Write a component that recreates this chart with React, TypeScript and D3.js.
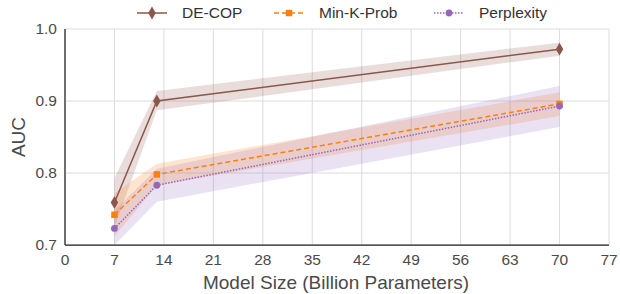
import * as d3 from 'd3';
import React from 'react';

// model sizes (billions) and AUC per method
const sizes = [7, 13, 70];
const decopMean = [0.759, 0.9, 0.972];
const decopLow = [0.725, 0.887, 0.963];
const decopHigh = [0.793, 0.914, 0.981];
const minkMean = [0.742, 0.798, 0.896];
const minkLow = [0.712, 0.783, 0.879];
const minkHigh = [0.772, 0.813, 0.912];
const pplMean = [0.723, 0.783, 0.893];
const pplLow = [0.7, 0.76, 0.864];
const pplHigh = [0.748, 0.806, 0.921];

const xTicks = [0, 7, 14, 21, 28, 35, 42, 49, 56, 63, 70, 77];
const yTicks = [0.7, 0.8, 0.9, 1.0];

const series = [
  { name: 'DE-COP', color: '#8c564b', mean: decopMean, low: decopLow, high: decopHigh, dash: '', marker: 'diamond' },
  { name: 'Min-K-Prob', color: '#ff7f0e', mean: minkMean, low: minkLow, high: minkHigh, dash: '5,3', marker: 'square' },
  { name: 'Perplexity', color: '#9467bd', mean: pplMean, low: pplLow, high: pplHigh, dash: '1.5,1.5', marker: 'circle' },
];

const legendX = [137, 274, 434];

export default function App() {
  const width = 620;
  const height = 294;
  const left = 65, right = 609, top = 29, bottom = 245;
  const font = '"Liberation Sans", Arial, sans-serif';

  const x = d3.scaleLinear().domain([0, 77]).range([left, right]);
  const y = d3.scaleLinear().domain([0.7, 1.0]).range([bottom, top]);

  const line = d3.line<number>().x((d, i) => x(sizes[i])).y(d => y(d));

  const markerPath = (type: string, size: number) => {
    const sym = type === 'diamond' ? d3.symbolDiamond : type === 'square' ? d3.symbolSquare : d3.symbolCircle;
    return d3.symbol().type(sym).size(size)() as string;
  };
  const markerSize = (type: string) => (type === 'diamond' ? 48 : type === 'square' ? 42 : 36);

  return (
    <svg width={width} height={height} style={{ position: 'absolute', left: 0, top: 0 }} fontFamily={font}>
      <defs>
        <clipPath id="plotclip">
          <rect x={left} y={top - 5} width={right - left} height={bottom - top + 5} />
        </clipPath>
      </defs>
      {/* grid */}
      {xTicks.map(t => (
        <line key={'gx' + t} x1={x(t)} x2={x(t)} y1={top} y2={bottom} stroke="#dcdcdc" strokeWidth={1} />
      ))}
      {yTicks.map(t => (
        <line key={'gy' + t} x1={left} x2={right} y1={y(t)} y2={y(t)} stroke="#dcdcdc" strokeWidth={1} />
      ))}

      {/* bands */}
      <g clipPath="url(#plotclip)">
        {series.map(s => {
          const area = d3.area<number>()
            .x((d, i) => x(sizes[i]))
            .y0((d, i) => y(s.low[i]))
            .y1((d, i) => y(s.high[i]));
          return <path key={'a' + s.name} d={area(s.mean) as string} fill={s.color} fillOpacity={0.2} stroke="none" />;
        })}
        {series.map(s => (
          <g key={'l' + s.name}>
            <path d={line(s.mean) as string} fill="none" stroke={s.color} strokeWidth={1.5} strokeDasharray={s.dash} />
            {s.mean.map((v, i) => (
              <path key={i} d={markerPath(s.marker, markerSize(s.marker))} transform={`translate(${x(sizes[i])},${y(v)})`} fill={s.color} />
            ))}
          </g>
        ))}
      </g>

      {/* spines */}
      <line x1={left} x2={left} y1={top} y2={bottom} stroke="#222" strokeWidth={1.25} />
      <line x1={left} x2={right} y1={bottom} y2={bottom} stroke="#222" strokeWidth={1.25} />

      {/* tick labels */}
      {xTicks.map(t => (
        <text key={'tx' + t} x={x(t)} y={bottom + 20} textAnchor="middle" fontSize={15.5} fill="#4a4a4a">{t}</text>
      ))}
      {yTicks.map(t => (
        <text key={'ty' + t} x={left - 8} y={y(t)} dy="0.35em" textAnchor="end" fontSize={15.5} fill="#4a4a4a">{t.toFixed(1)}</text>
      ))}

      {/* axis titles */}
      <text x={(left + right) / 2 - 1} y={289} textAnchor="middle" fontSize={19} fill="#4a4a4a">Model Size (Billion Parameters)</text>
      <text transform={`translate(25,${(top + bottom) / 2}) rotate(-90)`} textAnchor="middle" fontSize={19} fill="#4a4a4a">AUC</text>

      {/* legend */}
      {series.map((s, i) => (
        <g key={'lg' + s.name} transform={`translate(${legendX[i]},13)`}>
          <line x1={0} x2={30} y1={0} y2={0} stroke={s.color} strokeWidth={1.5} strokeDasharray={s.dash} />
          <path d={markerPath(s.marker, markerSize(s.marker))} transform="translate(15,0)" fill={s.color} />
          <text x={45} y={0} dy="0.35em" fontSize={15.5} fill="#333">{s.name}</text>
        </g>
      ))}
    </svg>
  );
}
